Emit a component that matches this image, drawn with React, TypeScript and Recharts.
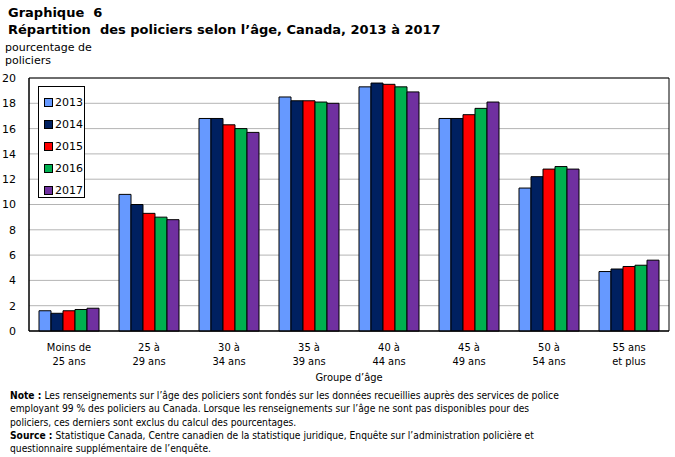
import React from "react";
import { BarChart, Bar, XAxis, YAxis, CartesianGrid, ReferenceArea } from "recharts";

const categories = ["Moins de|25 ans", "25 à|29 ans", "30 à|34 ans", "35 à|39 ans", "40 à|44 ans", "45 à|49 ans", "50 à|54 ans", "55 ans|et plus"];
const years = ["2013", "2014", "2015", "2016", "2017"];
const colors = ["#6699FF", "#002060", "#FF0000", "#00B050", "#7030A0"];
const v2013 = [1.6, 10.8, 16.8, 18.5, 19.3, 16.8, 11.3, 4.7];
const v2014 = [1.4, 10.0, 16.8, 18.2, 19.6, 16.8, 12.2, 4.9];
const v2015 = [1.6, 9.3, 16.3, 18.2, 19.5, 17.1, 12.8, 5.1];
const v2016 = [1.7, 9.0, 16.0, 18.1, 19.3, 17.6, 13.0, 5.2];
const v2017 = [1.8, 8.8, 15.7, 18.0, 18.9, 18.1, 12.8, 5.6];
const yTicks = [0, 2, 4, 6, 8, 10, 12, 14, 16, 18, 20];

const noteLines: [string, string][] = [
  ["Note :", "Les renseignements sur l’âge des policiers sont fondés sur les données recueillies auprès des services de police"],
  ["", "employant 99 % des policiers au Canada. Lorsque les renseignements sur l’âge ne sont pas disponibles pour des"],
  ["", "policiers, ces derniers sont exclus du calcul des pourcentages."],
  ["Source :", "Statistique Canada, Centre canadien de la statistique juridique, Enquête sur l’administration policière et"],
  ["", "questionnaire supplémentaire de l’enquête."],
];

const series = [v2013, v2014, v2015, v2016, v2017];
const data = categories.map((c, i) => {
  const row: any = { cat: c };
  years.forEach((y, k) => (row[y] = series[k][i]));
  return row;
});

const VERDANA = "'DejaVu Sans', Verdana, sans-serif";
const TAHOMA = "'DejaVu Sans Condensed', Tahoma, sans-serif";

const XTick = (props: any) => {
  const { x, y, payload } = props;
  const lines = String(payload.value).split("|");
  return (
    <text x={x} y={y} textAnchor="middle" fontFamily={TAHOMA} fontSize={11} fill="#000">
      {lines.map((l, i) => (
        <tspan key={i} x={x} dy={i === 0 ? 12 : 13.5}>{l}</tspan>
      ))}
    </text>
  );
};

const LegendBox = () => (
  <div style={{ position: "absolute", left: 38, top: 86, width: 47, height: 112, border: "1px solid #000", background: "#fff", padding: "4px 0 0 5px", boxSizing: "border-box" }}>
    {years.map((y, i) => (
      <div key={y} style={{ display: "flex", alignItems: "center", height: 22, fontFamily: VERDANA, fontSize: 11, color: "#000" }}>
        <span style={{ display: "inline-block", width: 7, height: 7, background: colors[i], border: "1px solid #000", marginRight: 2 }} />
        <span>{y}</span>
      </div>
    ))}
  </div>
);

export default function App() {
  return (
    <div style={{ position: "absolute", left: 0, top: 0, width: 675, height: 457, background: "#fff", overflow: "hidden" }}>
      <div style={{ position: "absolute", left: 8, top: 4, fontFamily: VERDANA, fontWeight: "bold", fontSize: 13, lineHeight: "17px", color: "#000" }}>
        <div>Graphique&nbsp; 6</div>
        <div>Répartition&nbsp; des policiers selon l’âge, Canada, 2013 à 2017</div>
      </div>
      <div style={{ position: "absolute", left: 5, top: 41, fontFamily: VERDANA, fontSize: 11, lineHeight: "13px", color: "#000" }}>
        <div>pourcentage de</div>
        <div>policiers</div>
      </div>
      <div style={{ position: "absolute", left: 0, top: 0 }}>
        <BarChart
          width={675}
          height={457}
          data={data}
          margin={{ top: 78, right: 6, bottom: 86, left: 0 }}
          barCategoryGap="12.5%"
          barGap={0}
        >
          <CartesianGrid vertical={false} stroke="#B4B4B4" strokeWidth={1} />
          <XAxis dataKey="cat" tick={<XTick />} tickLine={false} axisLine={{ stroke: "#000" }} height={40} interval={0} />
          <YAxis domain={[0, 20]} ticks={yTicks} width={29} tickLine={false} axisLine={{ stroke: "#000" }} tick={{ fontFamily: VERDANA, fontSize: 11, fill: "#000" }} tickMargin={7} />
          <ReferenceArea y1={0} y2={20} fill="none" stroke="#000" strokeWidth={1} ifOverflow="visible" />
          {years.map((y, i) => (
            <Bar key={y} dataKey={y} fill={colors[i]} stroke="#000" strokeWidth={1} isAnimationActive={false} />
          ))}
        </BarChart>
      </div>
      <LegendBox />
      <div style={{ position: "absolute", left: 349 - 100, width: 200, top: 371, textAlign: "center", fontFamily: TAHOMA, fontSize: 11, color: "#000" }}>Groupe d’âge</div>
      <div style={{ position: "absolute", left: 10, top: 389, fontFamily: TAHOMA, fontSize: 10.2, lineHeight: "13.3px", color: "#000", whiteSpace: "nowrap" }}>
        {noteLines.map(([b, t], i) => (
          <div key={i}>
            {b ? <b style={{ marginRight: 3 }}>{b}</b> : null}
            <span>{t}</span>
          </div>
        ))}
      </div>
    </div>
  );
}
